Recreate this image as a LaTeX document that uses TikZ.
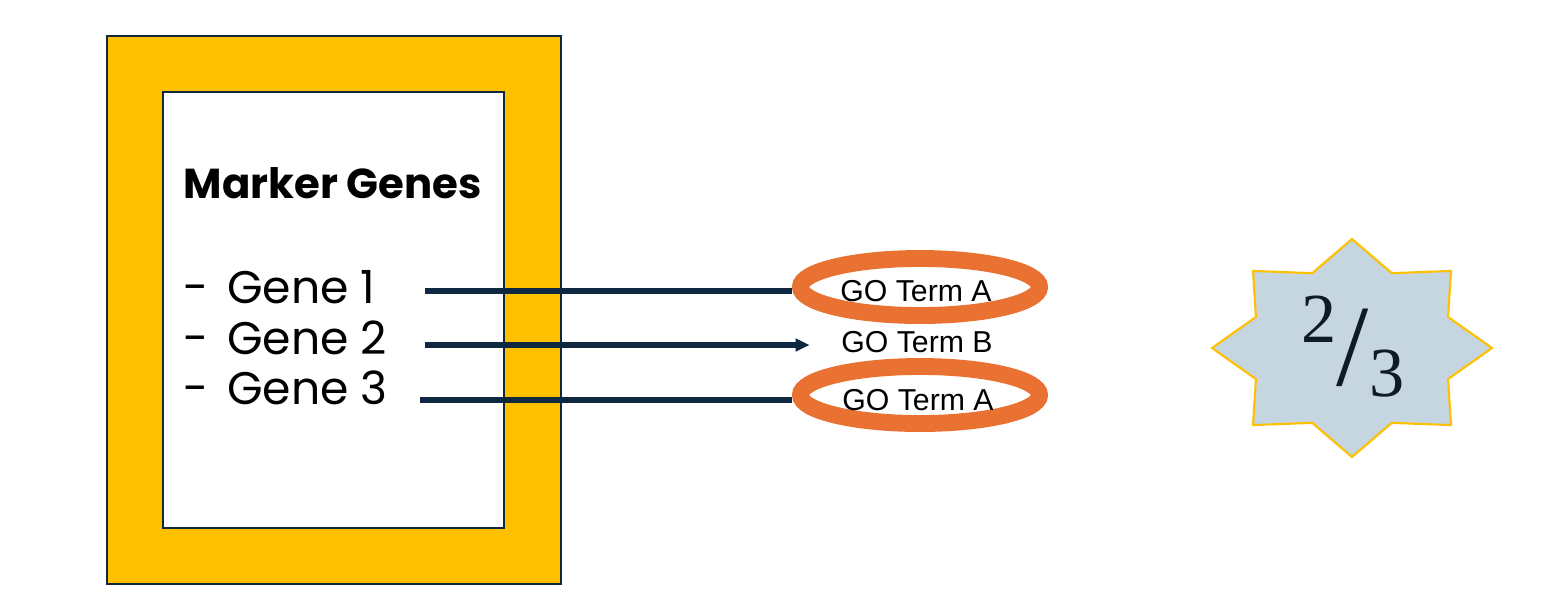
\documentclass[tikz,border=0pt]{standalone}
\usepackage{fontspec}
\setmainfont{Poppins}
\newfontfamily\goFont{Liberation Sans}
\newfontfamily\fracFont{Liberation Serif}
\usetikzlibrary{arrows.meta,shapes.geometric}
\definecolor{frameYellow}{HTML}{FFC000}
\definecolor{navy}{HTML}{0E2841}
\definecolor{goOrange}{HTML}{E97132}
\definecolor{starBlue}{HTML}{C5D6E0}
\definecolor{fracDark}{HTML}{0E1A26}

\begin{document}
\begin{tikzpicture}[x=0.01cm,y=-0.01cm,
  geneline/.style={navy,line width=1.6pt},
  goring/.style={ellipse,draw=goOrange,line width=4.8pt,minimum width=2.39cm,minimum height=0.57cm,inner sep=0pt},
  golabel/.style={font=\goFont\fontsize{8.6}{9}\selectfont,inner sep=0pt},
  genetext/.style={anchor=base west,inner sep=0pt,font=\fontsize{13}{15}\selectfont}]
\useasboundingbox (0,0) rectangle (1550,614);

% marker gene box
\draw[navy,line width=0.6pt,fill=frameYellow] (107,36) rectangle (561,584);
\draw[navy,line width=0.6pt,fill=white] (163,92) rectangle (504,528);
\node[anchor=base west,inner sep=0pt,font=\bfseries\fontsize{11.9}{13}\selectfont] (title) at (183,198) {Marker Genes};

\node[genetext] (g1) at (183,303) {-\hspace{0.4em}Gene 1};
\node[genetext] (g2) at (183,354) {-\hspace{0.4em}Gene 2};
\node[genetext] (g3) at (183,404) {-\hspace{0.4em}Gene 3};

% GO terms
\node[goring] (ring1) at (920,287) {};
\node[goring] (ring3) at (920,395) {};
\node[golabel] (ta1) at (916,291) {GO Term A};
\node[golabel] (tb) at (917,342) {GO Term B};
\node[golabel] (ta3) at (918,400) {GO Term A};

\coordinate (s1) at (425,291);
\coordinate (s2) at (425,345);
\coordinate (s3) at (420,400);
\draw[geneline] (s1) -- (s1 -| ring1.west);
\draw[geneline,-{Triangle[length=4pt,width=3.5pt]}] (s2) -- ([xshift=-0.31cm]tb.west |- s2);
\draw[geneline] (s3) -- (s3 -| ring3.west);

% score
\coordinate (score) at (1352,348);
\draw[frameYellow,line width=0.6pt,fill=starBlue,shift={(score)}] (140,0)
  \foreach \a in {0,45,...,315} {
    -- ({104*cos(\a+22.5)},{81*sin(\a+22.5)}) -- ({140*cos(\a+45)},{109*sin(\a+45)})
  } -- cycle;
\node[fracDark,inner sep=0pt,anchor=base] (frac) at (1353,385) {\fracFont\fontsize{20}{21}\selectfont\raisebox{12pt}{2}{\fontsize{33}{33}\selectfont/}\raisebox{-3.4pt}{3}};
\end{tikzpicture}
\end{document}
